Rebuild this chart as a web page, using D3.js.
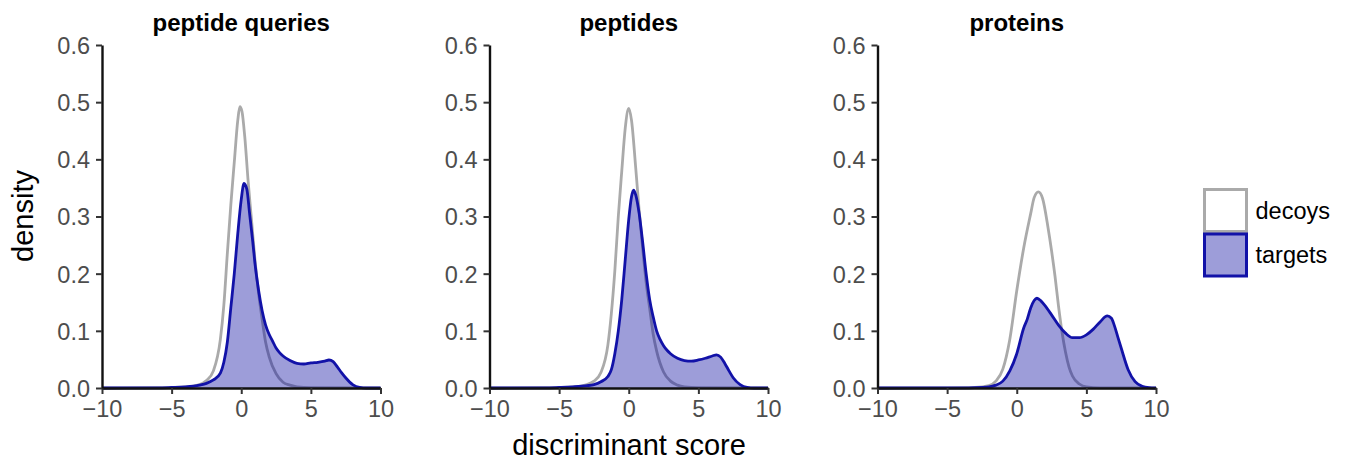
<!DOCTYPE html>
<html>
<head>
<meta charset="utf-8">
<script src="https://cdn.jsdelivr.net/npm/d3@7"></script>
<style>
  body { margin: 0; background: #fff; }
  text { font-family: "Liberation Sans", Arial, Helvetica, sans-serif; }
</style>
</head>
<body>
<svg id="chart" width="1351" height="462"></svg>
<script>
// panel titles and tick values
const panelTitles = ['peptide queries', 'peptides', 'proteins'];
const xTicks = [-10, -5, 0, 5, 10];
const yTicks = [0, 0.1, 0.2, 0.3, 0.4, 0.5, 0.6];
const legendLabels = ['decoys', 'targets'];

// density curves: [score, density]
const queriesDecoys = [[-10, 0], [-6, 0.0005], [-4, 0.002], [-3, 0.006], [-2.5, 0.013], [-2, 0.03], [-1.5, 0.085],
  [-1.25, 0.145], [-1, 0.235], [-0.75, 0.32], [-0.5, 0.395], [-0.25, 0.468], [-0.1, 0.492], [0.05, 0.484], [0.25, 0.44],
  [0.5, 0.36], [0.75, 0.29], [1, 0.22], [1.25, 0.165], [1.5, 0.12], [1.75, 0.08], [2, 0.055], [2.5, 0.025],
  [3, 0.01], [3.5, 0.005], [4, 0.002], [5, 0.0005], [10, 0]];
const queriesTargets = [[-10, 0], [-6, 0.0003], [-5, 0.001], [-4, 0.002], [-3, 0.005], [-2.5, 0.008], [-2, 0.014],
  [-1.5, 0.026], [-1.25, 0.045], [-1, 0.08], [-0.75, 0.14], [-0.5, 0.2], [-0.25, 0.27], [0, 0.33], [0.2, 0.358],
  [0.4, 0.348], [0.6, 0.305], [0.8, 0.262], [1, 0.215], [1.25, 0.17], [1.5, 0.135], [1.75, 0.11], [2, 0.094],
  [2.25, 0.082], [2.5, 0.07], [2.75, 0.062], [3, 0.056], [3.5, 0.048], [4, 0.043], [4.5, 0.042], [5, 0.044],
  [5.5, 0.045], [6, 0.047], [6.3, 0.049], [6.6, 0.046], [6.9, 0.037], [7.2, 0.027], [7.5, 0.018], [8, 0.006],
  [8.5, 0.001], [9, 0], [10, 0]];

const peptidesDecoys = [[-10, 0], [-6, 0.0005], [-4, 0.002], [-3, 0.006], [-2.5, 0.012], [-2, 0.027], [-1.5, 0.075],
  [-1.25, 0.13], [-1, 0.205], [-0.75, 0.3], [-0.5, 0.38], [-0.25, 0.455], [0, 0.489], [0.2, 0.468], [0.5, 0.385],
  [0.75, 0.31], [1, 0.245], [1.25, 0.185], [1.5, 0.14], [1.75, 0.095], [2, 0.065], [2.5, 0.028], [3, 0.012],
  [3.5, 0.005], [4, 0.002], [5, 0.0005], [10, 0]];
const peptidesTargets = [[-10, 0], [-6, 0.0003], [-5, 0.001], [-4, 0.002], [-3, 0.004], [-2.5, 0.006], [-2, 0.011],
  [-1.5, 0.02], [-1.25, 0.032], [-1, 0.06], [-0.75, 0.1], [-0.5, 0.155], [-0.25, 0.225], [0, 0.295], [0.2, 0.335],
  [0.35, 0.346], [0.5, 0.338], [0.75, 0.305], [1, 0.255], [1.25, 0.2], [1.5, 0.155], [1.75, 0.125], [2, 0.1],
  [2.25, 0.085], [2.5, 0.074], [2.75, 0.066], [3, 0.06], [3.5, 0.052], [4, 0.048], [4.5, 0.047], [5, 0.049],
  [5.5, 0.052], [6, 0.056], [6.3, 0.058], [6.6, 0.054], [6.9, 0.043], [7.2, 0.03], [7.5, 0.018], [8, 0.006],
  [8.5, 0.001], [9, 0], [10, 0]];

const proteinsDecoys = [[-10, 0], [-5, 0.0003], [-3, 0.001], [-2, 0.004], [-1.5, 0.012], [-1, 0.033], [-0.5, 0.085],
  [0, 0.17], [0.5, 0.245], [1, 0.305], [1.25, 0.333], [1.55, 0.343], [1.85, 0.332], [2.25, 0.28], [2.5, 0.24],
  [2.75, 0.195], [3, 0.143], [3.25, 0.098], [3.5, 0.063], [3.75, 0.037], [4, 0.021], [4.5, 0.007], [5, 0.002],
  [6, 0.0003], [10, 0]];
const proteinsTargets = [[-10, 0], [-5, 0.0002], [-3, 0.0008], [-2, 0.002], [-1.5, 0.005], [-1, 0.012], [-0.5, 0.03],
  [0, 0.06], [0.5, 0.105], [0.75, 0.12], [1, 0.14], [1.25, 0.153], [1.45, 0.157], [1.75, 0.152], [2, 0.145],
  [2.5, 0.128], [3, 0.11], [3.5, 0.096], [4, 0.088], [4.5, 0.088], [5, 0.093], [5.5, 0.103], [6, 0.116],
  [6.5, 0.126], [6.8, 0.122], [7, 0.11], [7.25, 0.09], [7.5, 0.07], [8, 0.032], [8.5, 0.011], [9, 0.003],
  [9.5, 0.0005], [10, 0]];

const decoySeries = [queriesDecoys, peptidesDecoys, proteinsDecoys];
const targetSeries = [queriesTargets, peptidesTargets, proteinsTargets];

const decoyColor = '#aaaaaa';
const targetLine = '#1212a8';
const targetFill = '#0a0aa0';

const svg = d3.select('#chart');
const panelLeft = [102, 489.5, 877.5];
const panelWidth = 278.5;
const plotTop = 45;
const plotHeight = 343;

const x = d3.scaleLinear().domain([-10, 10]).range([0, panelWidth]);
const y = d3.scaleLinear().domain([0, 0.6]).range([plotHeight, 0]);

const area = d3.area()
  .x(d => x(d[0]))
  .y0(y(0))
  .y1(d => y(d[1]))
  .curve(d3.curveMonotoneX);
const line = d3.line()
  .x(d => x(d[0]))
  .y(d => y(d[1]))
  .curve(d3.curveMonotoneX);

const styleAxis = g => {
  g.select('.domain').attr('stroke', '#111').attr('stroke-width', 2.4);
  g.selectAll('.tick line').attr('stroke', '#333').attr('stroke-width', 2);
  g.selectAll('.tick text')
    .attr('fill', '#4d4d4d')
    .style('font-size', '23.5px');
};

panelTitles.forEach((title, i) => {
  const g = svg.append('g').attr('transform', `translate(${panelLeft[i]},${plotTop})`);

  // decoy outline first, then the translucent target area over it
  g.append('path')
    .datum(decoySeries[i])
    .attr('fill', 'none')
    .attr('stroke', decoyColor)
    .attr('stroke-width', 2.8)
    .attr('d', line);

  g.append('path')
    .datum(targetSeries[i])
    .attr('fill', targetFill)
    .attr('fill-opacity', 0.4)
    .attr('d', area);

  g.append('path')
    .datum(targetSeries[i])
    .attr('fill', 'none')
    .attr('stroke', targetLine)
    .attr('stroke-width', 2.8)
    .attr('d', line);

  g.append('g')
    .attr('transform', `translate(0,${plotHeight})`)
    .call(d3.axisBottom(x).tickValues(xTicks).tickSize(6).tickSizeOuter(0).tickPadding(6))
    .call(styleAxis);

  g.append('g')
    .call(d3.axisLeft(y).tickValues(yTicks).tickFormat(d3.format('.1f')).tickSize(6).tickSizeOuter(0).tickPadding(6))
    .call(styleAxis)
    .call(ax => ax.selectAll('.tick text').attr('dy', '0.36em'));

  g.append('text')
    .attr('x', panelWidth / 2)
    .attr('y', 31 - plotTop)
    .attr('text-anchor', 'middle')
    .style('font-size', '24px')
    .style('font-weight', 'bold')
    .text(title);
});

// axis titles
svg.append('text')
  .attr('transform', `translate(33,216)rotate(-90)`)
  .attr('text-anchor', 'middle')
  .style('font-size', '29px')
  .text('density');

svg.append('text')
  .attr('x', 629)
  .attr('y', 455)
  .attr('text-anchor', 'middle')
  .style('font-size', '29px')
  .text('discriminant score');

// legend
const legend = svg.append('g').attr('transform', 'translate(1204.5,189.5)');
const keys = [
  { fill: '#fff', opacity: 1, stroke: decoyColor },
  { fill: targetFill, opacity: 0.4, stroke: targetLine }
];
legendLabels.forEach((label, i) => {
  legend.append('rect')
    .attr('x', 0)
    .attr('y', i * 44.5)
    .attr('width', 42)
    .attr('height', 42)
    .attr('fill', keys[i].fill)
    .attr('fill-opacity', keys[i].opacity)
    .attr('stroke', keys[i].stroke)
    .attr('stroke-width', 3);
  legend.append('text')
    .attr('x', 51)
    .attr('y', i * 44.5 + 21)
    .attr('dy', '0.36em')
    .style('font-size', '23.5px')
    .text(label);
});
</script>
</body>
</html>
